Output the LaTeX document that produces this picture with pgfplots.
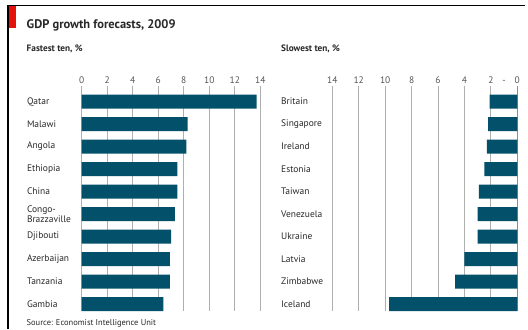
\documentclass[border=0pt]{standalone}
\usepackage{pgfplots}
\pgfplotsset{compat=1.18}
\usepackage{pgfplotstable}
\usepackage{fontspec}
\setmainfont{PT Sans}
\definecolor{barc}{RGB}{2,80,106}
\definecolor{ered}{RGB}{227,18,11}
\definecolor{gridc}{RGB}{175,175,175}
\definecolor{txt}{RGB}{40,40,40}
\definecolor{tick}{RGB}{85,85,85}

\pgfplotstableread{
idx val
0 13.7
1 8.3
2 8.2
3 7.5
4 7.5
5 7.3
6 7.0
7 6.9
8 6.9
9 6.4
}\fastest

\pgfplotstableread{
idx val
0 -2.1
1 -2.2
2 -2.3
3 -2.5
4 -2.9
5 -3.0
6 -3.0
7 -4.0
8 -4.7
9 -9.7
}\slowest

\pgfplotsset{
  common/.style={
    anchor=south west, scale only axis, height=225bp,
    ymin=-0.689, ymax=9.311, y dir=reverse,
    axis line style={draw=none}, major tick length=0pt,
    xticklabel pos=upper,
    /pgf/number format/assume math mode=true,
    xmajorgrids, grid style={gridc, line width=1bp},
    ytick={0,...,9},
    yticklabel style={anchor=west, inner sep=0pt, align=left, text=txt,
      font=\fontsize{9.5}{8}\selectfont},
    xticklabel style={anchor=south, inner sep=0pt, yshift=2.5bp, text=tick,
      font=\fontsize{9.5}{10}\selectfont},
    xbar, bar width=14bp,
  }
}

\begin{document}
\begin{tikzpicture}[x=1bp,y=1bp]
\path (0,0) rectangle (528,329);
\draw[line width=1.5bp] (8.2,0) -- (8.2,323.5) -- (525,323.5);
\fill[ered] (9,300.7) rectangle (16,322.7);

\node[anchor=base west, inner sep=0pt, text=txt, font=\bfseries\fontsize{12.5}{14}\selectfont] at (26.5,300.4) {GDP growth forecasts, 2009};
\node[anchor=base west, inner sep=0pt, text=txt, font=\bfseries\fontsize{9.3}{11}\selectfont] at (26.5,277.5) {Fastest ten, \%};
\node[anchor=base west, inner sep=0pt, text=txt, font=\bfseries\fontsize{9.3}{11}\selectfont] at (281,277.5) {Slowest ten, \%};
\node[anchor=base west, inner sep=0pt, text=txt, font=\fontsize{8.5}{10}\selectfont] at (26.5,4) {Source: Economist Intelligence Unit};

\begin{axis}[common, at={(81.7bp,18bp)}, width=178.7bp,
  xmin=0, xmax=14, xtick={0,2,...,14},
  yticklabels={Qatar,Malawi,Angola,Ethiopia,China,{Congo-\\Brazzaville},Djibouti,Azerbaijan,Tanzania,Gambia},
  yticklabel style={xshift=-54.9bp},
]
\addplot[fill=barc, draw=none] table[x=val, y=idx] {\fastest};
\end{axis}

\begin{axis}[common, at={(332.3bp,18bp)}, width=185bp,
  xmin=-14, xmax=0, xtick={-14,-12,...,0},
  xticklabels={14,12,10,8,6,4,2,0},
  extra x ticks={-1}, extra x tick labels={-},
  extra x tick style={xmajorgrids=false},
  yticklabels={Britain,Singapore,Ireland,Estonia,Taiwan,Venezuela,Ukraine,Latvia,Zimbabwe,Iceland},
  yticklabel style={xshift=-51.3bp},
]
\addplot[fill=barc, draw=none] table[x=val, y=idx] {\slowest};
\draw[ered, line width=0.8bp] (0,-0.689) -- (0,9.311);
\end{axis}
\end{tikzpicture}
\end{document}
